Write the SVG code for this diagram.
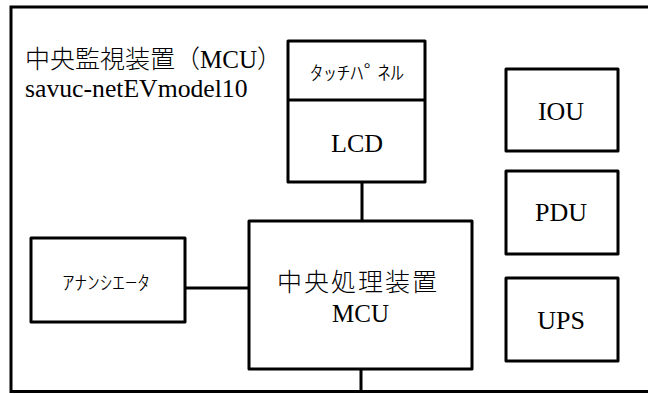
<svg xmlns="http://www.w3.org/2000/svg" width="648" height="394" viewBox="0 0 648 394">
<style>
.box{fill:#fff;stroke:#000;stroke-width:3;stroke-linejoin:round}
.ln{stroke:#000;stroke-width:3;fill:none}
.t{font-family:'Liberation Serif',serif;font-size:26px;fill:#000;text-anchor:middle}
.c{font-family:'Noto Sans CJK JP',sans-serif;font-weight:300}
.k{font-family:'Noto Sans CJK JP',sans-serif;font-size:19px;font-weight:300;fill:#000;text-anchor:middle}
.j{font-family:'Liberation Serif',serif;font-size:25px;fill:#000}
</style>
<rect width="648" height="394" fill="#fff"/>
<g id="frame">
<rect x="11" y="7" width="660" height="384.5" fill="none" stroke="#000" stroke-width="3"/>
<text class="j" x="25" y="68"><tspan class="c">中央監視装置（</tspan>MCU<tspan class="c">）</tspan></text>
<text class="j" x="25" y="97" style="font-size:25.7px">savuc-netEVmodel10</text>
</g>
<g id="connectors">
<line class="ln" x1="362" y1="182" x2="362" y2="221"/>
<line class="ln" x1="185" y1="288" x2="249" y2="288"/>
<line class="ln" x1="361" y1="369" x2="361" y2="392"/>
</g>
<g id="touchpanel-lcd">
<rect class="box" x="288" y="41" width="137" height="141"/>
<line class="ln" x1="288" y1="100" x2="425" y2="100"/>
<text class="k" x="357" y="80" textLength="94" lengthAdjust="spacingAndGlyphs">ﾀｯﾁﾊﾟﾈﾙ</text>
<text class="t" x="357" y="152">LCD</text>
</g>
<g id="mcu">
<rect class="box" x="249" y="221" width="223" height="148"/>
<text class="t" x="358" y="291" style="font-size:25px"><tspan class="c" letter-spacing="2">中央処理装置</tspan></text>
<text class="t" x="360.5" y="322" style="font-size:25px">MCU</text>
</g>
<g id="annunciator">
<rect class="box" x="31" y="238" width="154" height="84"/>
<text class="k" x="106" y="290" textLength="88" lengthAdjust="spacingAndGlyphs">ｱﾅﾝｼｴｰﾀ</text>
</g>
<g id="iou">
<rect class="box" x="506" y="69" width="112" height="82"/>
<text class="t" x="561" y="120">IOU</text>
</g>
<g id="pdu">
<rect class="box" x="506" y="171" width="112" height="83"/>
<text class="t" x="561" y="221">PDU</text>
</g>
<g id="ups">
<rect class="box" x="506" y="278" width="112" height="83"/>
<text class="t" x="561" y="329">UPS</text>
</g>
</svg>
